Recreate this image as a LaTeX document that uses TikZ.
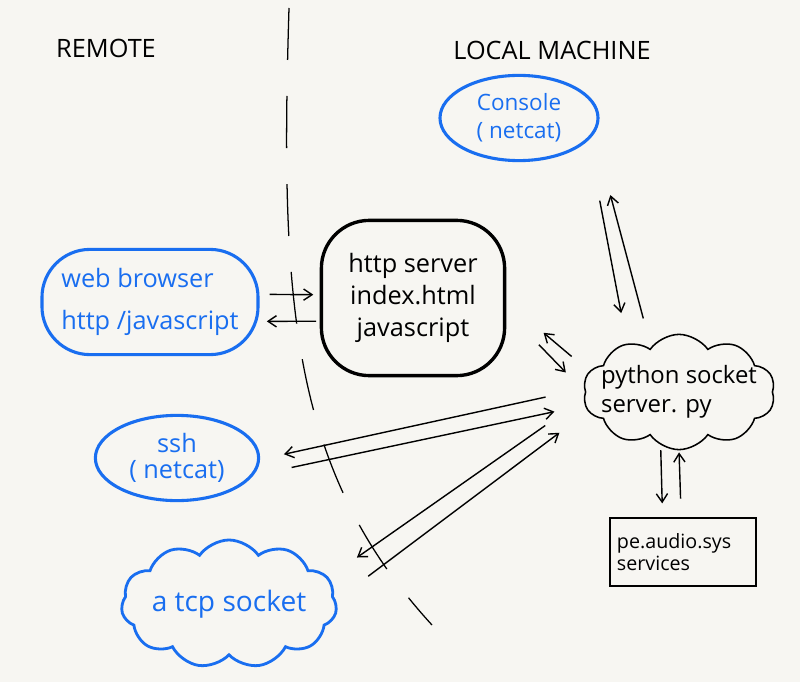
\documentclass[tikz,border=0pt]{standalone}
\usepackage{fontspec}
\setmainfont{Open Sans}
\usetikzlibrary{shapes.geometric,shapes.symbols,arrows.meta}
\definecolor{handblue}{RGB}{25,110,240}
\definecolor{paper}{RGB}{247,246,242}

\begin{document}
\begin{tikzpicture}
  [x=0.025cm,y=-0.025cm,
  bluenode/.style={ellipse,draw=handblue,line width=2.2pt,text=handblue,align=center,inner sep=0pt},
  blueblob/.style={rectangle,rounded corners=1.2cm,draw=handblue,line width=2.2pt,text=handblue,align=left,inner sep=0pt},
  bluecloud/.style={cloud,cloud puffs=11,cloud puff arc=110,cloud ignores aspect,draw=handblue,line width=2pt,text=handblue,align=center,inner sep=0pt},
  blackcloud/.style={cloud,cloud puffs=10,cloud puff arc=110,cloud ignores aspect,draw=black,line width=1.1pt,align=left,inner sep=0pt},
  serverbox/.style={rectangle,rounded corners=1.2cm,draw=black,line width=2.4pt,align=center,inner sep=0pt},
  plainbox/.style={rectangle,draw=black,line width=2pt,align=left,inner sep=0pt},
  arr/.style={-{Straight Barb[length=6pt,width=8pt]},line width=1pt},
  divider/.style={dash pattern=on 1.3cm off 0.9cm,line width=0.9pt},
  heading/.style={font=\fontsize{18}{20}\selectfont}]
  \fill[paper] (0,0) rectangle (800,682);

  \node[heading] (remote) at (106,48) {REMOTE};
  \node[heading] (local) at (552,50) {LOCAL MACHINE};

  \node[bluenode,minimum width=3.95cm,minimum height=2.13cm,font=\fontsize{16}{20}\selectfont] (console) at (519,118) {Console\\( netcat)};
  \node[blueblob,minimum width=5.4cm,minimum height=2.63cm,font=\fontsize{18}{30}\selectfont] (browser) at (150,302) {web browser\\http /javascript};
  \node[serverbox,minimum width=4.58cm,minimum height=3.88cm,font=\fontsize{18}{23}\selectfont] (http) at (413,298) {http server\\index.html\\javascript};
  \node[blackcloud,minimum width=4.8cm,minimum height=2.88cm,inner xsep=-10pt,font=\fontsize{17}{21}\selectfont] (python) at (679,392) {python socket\\server. py};
  \node[bluenode,minimum width=4.08cm,minimum height=2.13cm,font=\fontsize{18}{18}\selectfont] (ssh) at (177,458) {ssh\\( netcat)};
  \node[bluecloud,minimum width=5.05cm,minimum height=3.2cm,font=\fontsize{20}{24}\selectfont] (tcp) at (229,604) {a tcp socket};
  \node[plainbox,minimum width=3.65cm,minimum height=1.7cm,text width=3.3cm,font=\fontsize{14}{16}\selectfont] (services) at (683,552) {pe.audio.sys\\services};

  \draw[divider] (289,8) .. controls (280,300) and (290,470) .. (432,625);

  \draw[arr,shorten <=0.25cm,shorten >=0.16cm] (browser.4) -- (http.178);
  \draw[arr,shorten <=0.09cm,shorten >=0.18cm] (http.194) -- (browser.-10);
  \draw[arr,shorten <=1.53cm,shorten >=0.77cm] (console.-18) -- (python.137);
  \draw[arr,shorten <=0.74cm,shorten >=1.58cm] (python.122) -- (console.-12);
  \draw[arr,shorten <=0.57cm,shorten >=1.22cm] (python.167) -- (http.-2);
  \draw[arr,shorten <=1.17cm,shorten >=0.68cm] (http.-8) -- (python.180);
  \draw[arr,shorten <=0.98cm,shorten >=0.61cm] (python.178) -- (ssh.-1);
  \draw[arr,shorten <=0.98cm,shorten >=0.77cm] (ssh.-13) -- (python.188);
  \draw[arr,shorten <=1.17cm,shorten >=0.86cm] (python.184) -- (tcp.15);
  \draw[arr,shorten <=1.0cm,shorten >=0.89cm] (tcp.2) -- (python.192);
  \draw[arr,shorten <=0.12cm,shorten >=0.33cm] (python.251) -- (services.120);
  \draw[arr,shorten <=0.45cm,shorten >=0.05cm] (services.93) -- (python.270);
\end{tikzpicture}
\end{document}
